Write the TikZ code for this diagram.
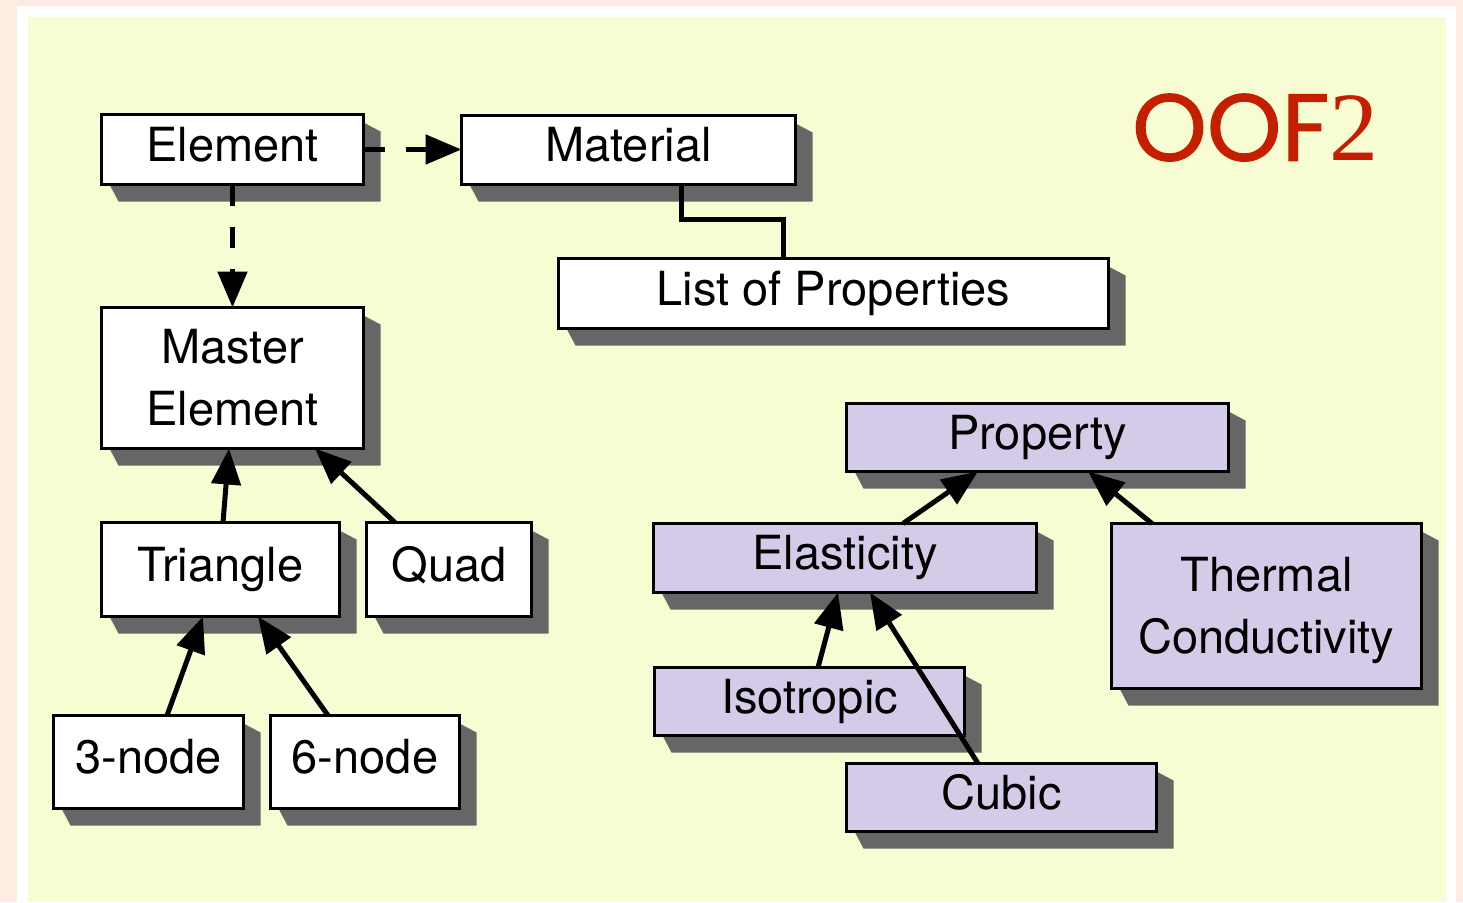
\documentclass[tikz,border=0pt]{standalone}
\usepackage{fontspec}
\setmainfont{TeX Gyre Heros}
\newfontfamily\ooffont{Poppins}[FakeBold=1.2]
\newfontfamily\twofont{Liberation Serif}
\usetikzlibrary{arrows.meta,calc}
\definecolor{pinkbg}{RGB}{252,236,226}
\definecolor{yellowbg}{RGB}{248,252,210}
\definecolor{boxpurple}{RGB}{211,203,232}
\definecolor{shadowgray}{RGB}{102,102,102}
\definecolor{oofred}{RGB}{198,30,0}
\pgfdeclarelayer{bg}
\pgfdeclarelayer{shadows}
\pgfsetlayers{bg,shadows,main}
\newcommand\boxshadow[1]{%
  \begin{pgfonlayer}{shadows}
    \fill[shadowgray] ($(#1.north east)+(0,8)$) -- ($(#1.north east)+(17,17)$)
      -- ($(#1.south east)+(17,17)$) -- ($(#1.south west)+(17,17)$)
      -- ($(#1.south west)+(8,0)$) -- cycle;
  \end{pgfonlayer}}
\tikzset{
  basebox/.style={draw=black, line width=3.3pt, fill=white, outer sep=0pt, inner sep=0pt,
    font=\fontsize{47}{62}\selectfont},
  wbox/.style={basebox, text height=35pt, text depth=12pt},
  pbox/.style={wbox, fill=boxpurple},
  wmulti/.style={basebox, align=center},
  pmulti/.style={wmulti, fill=boxpurple},
  arr/.style={line width=5pt, -{Triangle[length=36pt,width=29pt]}},
  darr/.style={arr, dash pattern=on 21pt off 21pt},
  plainline/.style={line width=5pt},
}
\begin{document}
\begin{tikzpicture}[x=1pt,y=-1pt]
\useasboundingbox (0,0) rectangle (1463,902);
\begin{pgfonlayer}{bg}
  \fill[pinkbg] (0,0) rectangle (1463,902);
  \fill[white] (17,6) rectangle (1456,902);
  \fill[yellowbg] (28,17) rectangle (1446,902);
\end{pgfonlayer}

\node[wbox, minimum width=262pt, minimum height=70pt] (elem) at (232.5,149.5) {Element};
\node[wbox, minimum width=334pt, minimum height=69pt] (mat) at (628.5,150) {Material};
\node[wbox, minimum width=550pt, minimum height=70pt] (list) at (833.5,293.5) {List of Properties};
\node[wmulti, minimum width=262pt, minimum height=141pt] (master) at (232.5,378) {Master\\Element};
\node[wbox, minimum width=238pt, minimum height=94pt] (tri) at (220.5,569.5) {Triangle};
\node[wbox, minimum width=165pt, minimum height=94pt] (quad) at (449,569.5) {Quad};
\node[wbox, minimum width=190pt, minimum height=93pt] (n3) at (148.5,762) {3-node};
\node[wbox, minimum width=189pt, minimum height=93pt] (n6) at (365,762) {6-node};

\node[pbox, minimum width=382pt, minimum height=68pt] (prop) at (1037.5,437.5) {Property};
\node[pbox, minimum width=383pt, minimum height=69pt] (elas) at (845,558) {Elasticity};
\node[pmulti, minimum width=310pt, minimum height=165pt] (therm) at (1266.5,606) {Thermal\\Conductivit\smash{y}};
\node[pbox, minimum width=310pt, minimum height=68pt] (iso) at (809.5,701.5) {Isotropic};
\node[pbox, minimum width=310pt, minimum height=68pt] (cubic) at (1001.5,797.5) {Cubic};

\foreach \n in {elem,mat,list,master,tri,quad,n3,n6,prop,elas,therm,iso,cubic} {\boxshadow{\n}}

\node[anchor=base west, text=oofred, inner sep=0pt, font=\fontsize{95}{95}\selectfont] (title) at (1132,160.7) {\ooffont OOF\twofont\fontsize{98}{98}\selectfont 2};

% connectors
\draw[darr] (elem.east) -- (elem.east -| mat.west);
\draw[darr] (elem.south) -- (master.north);
\draw[plainline] ($(mat.south west)+(219.5,0)$) -- ++(0,35) -| ($(list.north west)+(224.5,0)$);

\draw[arr] ($(tri.north)+(2.5,0)$) -- ($(master.south)+(-3.5,0)$);
\draw[arr] ($(quad.north)+(-54,0)$) -- ($(master.south)+(82.5,0)$);
\draw[arr] ($(n3.north)+(18.5,0)$) -- ($(tri.south)+(-17.5,0)$);
\draw[arr] ($(n6.north)+(-37,0)$) -- ($(tri.south)+(37.5,0)$);

\draw[arr] ($(elas.north)+(58,0)$) -- ($(prop.south)+(-59.5,0)$);
\draw[arr] ($(therm.north)+(-114.5,0)$) -- ($(prop.south)+(50.5,0)$);
\draw[arr] ($(iso.north)+(8.5,0)$) -- ($(elas.south)+(-7,0)$);
\draw[arr] ($(cubic.north)+(-23.5,0)$) -- ($(elas.south)+(25,0)$);
\end{tikzpicture}
\end{document}
